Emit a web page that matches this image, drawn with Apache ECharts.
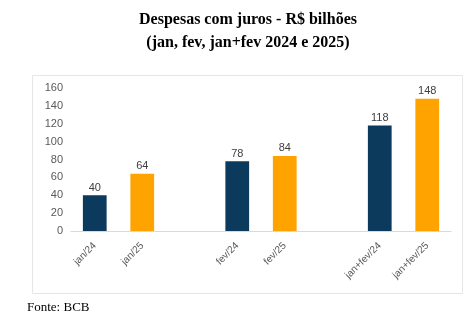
<!DOCTYPE html>
<html>
<head>
<meta charset="utf-8">
<script src="https://cdn.jsdelivr.net/npm/echarts@6/dist/echarts.min.js"></script>
<style>
  html, body { margin: 0; padding: 0; background: #fff; }
  #chart { width: 464px; height: 324px; }
</style>
</head>
<body>
<div id="chart"></div>
<script>
// Empty category slots separate the three month groups
const categories = ['jan/24', 'jan/25', '', 'fev/24', 'fev/25', '', 'jan+fev/24', 'jan+fev/25'];
const values = [40, 64, null, 78, 84, null, 118, 148];
const yTicks = { min: 0, max: 160, interval: 20 };

const titleLines = ['Despesas com juros - R$ bilhões', '(jan, fev, jan+fev 2024 e 2025)'];
const sourceNote = 'Fonte: BCB';

const COLOR_2024 = '#0c3a5d';
const COLOR_2025 = '#ffa300';

const chart = echarts.init(document.getElementById('chart'), null, { renderer: 'canvas' });

chart.setOption({
  animation: false,
  backgroundColor: '#ffffff',
  graphic: [
    {
      type: 'rect',
      shape: { x: 32.5, y: 75.5, width: 430, height: 218 },
      style: { fill: 'none', stroke: '#e6e6e6', lineWidth: 1 },
      z: -1
    },
    {
      type: 'text',
      x: 248,
      y: 20,
      style: {
        text: titleLines[0],
        font: 'bold 16px "Liberation Serif"',
        fill: '#000',
        align: 'center',
        verticalAlign: 'middle'
      }
    },
    {
      type: 'text',
      x: 248,
      y: 43,
      style: {
        text: titleLines[1],
        font: 'bold 16px "Liberation Serif"',
        fill: '#000',
        align: 'center',
        verticalAlign: 'middle'
      }
    },
    {
      type: 'text',
      x: 27,
      y: 308,
      style: {
        text: sourceNote,
        font: '13px "Liberation Serif"',
        fill: '#000',
        align: 'left',
        verticalAlign: 'middle'
      }
    }
  ],
  grid: { left: 71, right: 13, top: 88, bottom: 93, containLabel: false },
  xAxis: {
    type: 'category',
    data: categories,
    axisLine: { lineStyle: { color: '#d9d9d9', width: 1 } },
    axisTick: { show: false },
    axisLabel: {
      interval: 0,
      rotate: 45,
      margin: 13,
      fontFamily: 'Liberation Sans',
      fontSize: 10,
      color: '#595959'
    }
  },
  yAxis: {
    type: 'value',
    min: yTicks.min,
    max: yTicks.max,
    interval: yTicks.interval,
    axisLine: { show: false },
    axisTick: { show: false },
    splitLine: { show: false },
    axisLabel: {
      margin: 8,
      fontFamily: 'Liberation Sans',
      fontSize: 11,
      color: '#595959'
    }
  },
  series: [
    {
      type: 'bar',
      data: values,
      barWidth: '50%',
      itemStyle: {
        color: p => (categories[p.dataIndex].endsWith('/24') ? COLOR_2024 : COLOR_2025)
      },
      label: {
        show: true,
        position: 'top',
        distance: 2,
        fontFamily: 'Liberation Sans',
        fontSize: 11,
        color: '#404040'
      }
    }
  ]
});
</script>
</body>
</html>
